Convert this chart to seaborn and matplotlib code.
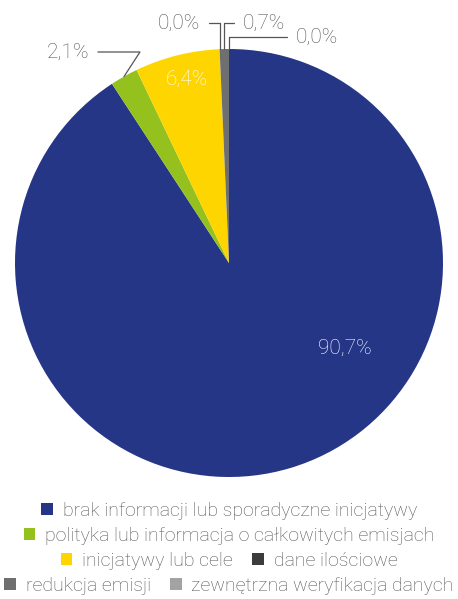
import matplotlib
matplotlib.use("Agg")
import matplotlib.pyplot as plt
import seaborn as sns
import numpy as np

categories = [
    "brak informacji lub sporadyczne inicjatywy",
    "polityka lub informacja o całkowitych emisjach",
    "inicjatywy lub cele",
    "dane ilościowe",
    "redukcja emisji",
    "zewnętrzna weryfikacja danych",
]
shares = [90.7, 2.1, 6.4, 0.0, 0.7, 0.0]
labels = ["90,7%", "2,1%", "6,4%", "0,0%", "0,7%", "0,0%"]
colors = ["#253687", "#95c11f", "#ffd500", "#3c3c3c", "#6f6f6f", "#a3a3a3"]

sns.set_theme(style="white")
plt.rcParams["font.family"] = ["Roboto", "DejaVu Sans"]
text_color = "#555555"
label_size = 15
label_weight = "light"

fig = plt.figure(figsize=(4.58, 5.99), dpi=100)
ax = fig.add_axes([15 / 458, 122 / 599, 428 / 458, 428 / 599])

palette = sns.color_palette(colors)
wedges, _ = ax.pie(shares, colors=palette, startangle=90, counterclock=False,
                   radius=1.0, wedgeprops=dict(linewidth=0))
ax.set_xlim(-1, 1)
ax.set_ylim(-1, 1)
ax.set_aspect("equal")
ax.axis("off")

# labels inside the large slices
ax.text(0.542, -0.397, labels[0], color="white", fontsize=label_size,
        fontweight=label_weight, ha="center", va="center")
ax.text(-0.196, 0.860, labels[2], color="white", fontsize=label_size,
        fontweight=label_weight, ha="center", va="center")


def edge_point(w):
    mid = np.deg2rad((w.theta1 + w.theta2) / 2)
    return np.cos(mid), np.sin(mid)


# outside labels with leader lines: (index, text pos, alignment, end angle)
outside = [
    (1, (-0.654, 0.986), "right", 57),
    (3, (-0.136, 1.121), "right", 90),
    (4, (0.065, 1.121), "left", 90),
    (5, (0.313, 1.056), "left", 90),
]
for i, (tx, ty), ha, angB in outside:
    xy = edge_point(wedges[i])
    ax.annotate(labels[i], xy=xy, xytext=(tx, ty), ha=ha, va="center",
                color=text_color, fontsize=label_size, fontweight=label_weight,
                annotation_clip=False,
                arrowprops=dict(arrowstyle="-", color=text_color, lw=0.9,
                                shrinkA=4, shrinkB=0,
                                connectionstyle=f"angle,angleA=0,angleB={angB},rad=0"))

# legend rows
rows = [[0], [1], [2, 3], [4, 5]]
row_y = [511, 536, 561, 586]
for idx, y in zip(rows, row_y):
    leg = fig.legend([wedges[k] for k in idx], [categories[k] for k in idx],
                     loc="center", bbox_to_anchor=(0.5, 1 - y / 599),
                     ncol=len(idx), frameon=False, fontsize=14,
                     handlelength=0.6, handleheight=0.6, handletextpad=0.5,
                     columnspacing=1.0, borderpad=0, borderaxespad=0)
    for t in leg.get_texts():
        t.set_color(text_color)
        t.set_fontweight(label_weight)

fig.savefig("out.png", dpi=100)
